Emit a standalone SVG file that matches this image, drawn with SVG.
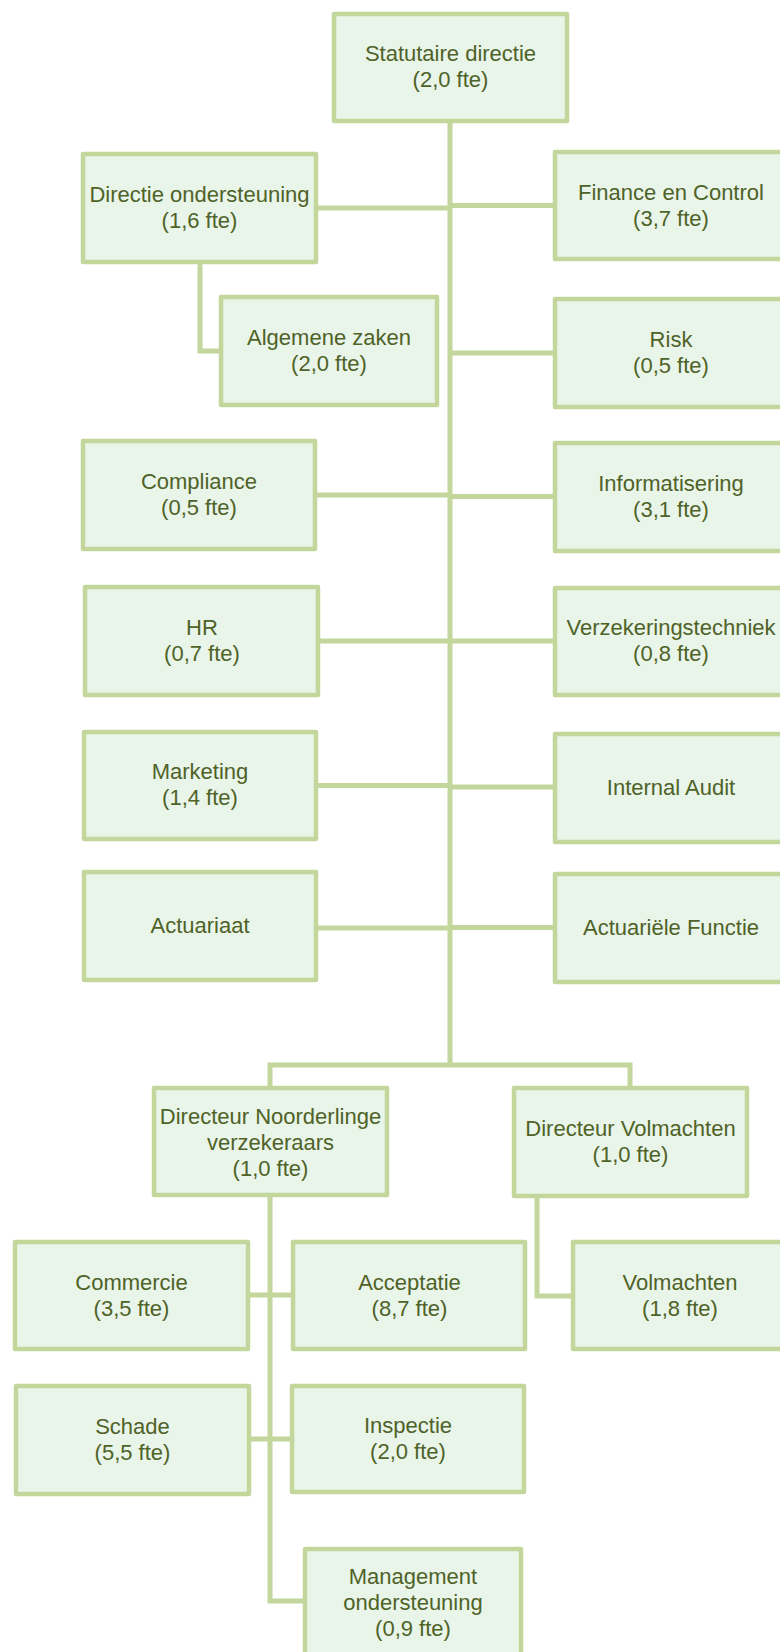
<svg xmlns="http://www.w3.org/2000/svg" width="780" height="1652" viewBox="0 0 780 1652">
<style>
.box{fill:#E8F5E8;stroke:#C3D69B;stroke-width:4.5;stroke-linejoin:round}
.t{font-family:"Liberation Sans",Arial,sans-serif;font-size:22px;fill:#4F6228;text-anchor:middle}
.c{fill:none;stroke:#C3D69B;stroke-width:5}
</style>
<rect width="780" height="1652" fill="#ffffff"/>
<g id="connectors">
<line class="c" x1="450" y1="121" x2="450" y2="1067" stroke-width="6"/>
<line class="c" x1="316" y1="208" x2="450" y2="208"/>
<line class="c" x1="450" y1="205.5" x2="555" y2="205.5"/>
<path class="c" d="M200 262 V351 H221"/>
<line class="c" x1="450" y1="353" x2="555" y2="353"/>
<line class="c" x1="315" y1="495" x2="450" y2="495"/>
<line class="c" x1="450" y1="496.5" x2="555" y2="496.5"/>
<line class="c" x1="318" y1="641" x2="450" y2="641"/>
<line class="c" x1="450" y1="641" x2="555" y2="641"/>
<line class="c" x1="316" y1="785.5" x2="450" y2="785.5"/>
<line class="c" x1="450" y1="787" x2="555" y2="787"/>
<line class="c" x1="316" y1="928" x2="450" y2="928"/>
<line class="c" x1="450" y1="927.5" x2="555" y2="927.5"/>
<path class="c" d="M270 1088 V1065 H630 V1088"/>
<path class="c" d="M270 1195 V1601 H305"/>
<line class="c" x1="248" y1="1295" x2="293" y2="1295"/>
<line class="c" x1="249" y1="1439" x2="292" y2="1439"/>
<path class="c" d="M537 1196 V1296 H573"/>
</g>
<g id="n-statutaire"><rect class="box" x="334" y="14" width="233" height="107"/><text class="t" x="450.5" y="61">Statutaire directie</text><text class="t" x="450.5" y="87">(2,0 fte)</text></g>
<g id="n-directie-ondersteuning"><rect class="box" x="83" y="154" width="233" height="108"/><text class="t" x="199.5" y="202">Directie ondersteuning</text><text class="t" x="199.5" y="228">(1,6 fte)</text></g>
<g id="n-finance"><rect class="box" x="555" y="152" width="233" height="107"/><text class="t" x="671" y="200">Finance en Control</text><text class="t" x="671" y="226">(3,7 fte)</text></g>
<g id="n-algemene-zaken"><rect class="box" x="221" y="297" width="216" height="108"/><text class="t" x="329" y="345">Algemene zaken</text><text class="t" x="329" y="371">(2,0 fte)</text></g>
<g id="n-risk"><rect class="box" x="555" y="299" width="233" height="108"/><text class="t" x="671" y="347">Risk</text><text class="t" x="671" y="373">(0,5 fte)</text></g>
<g id="n-compliance"><rect class="box" x="83" y="441" width="232" height="108"/><text class="t" x="199" y="489">Compliance</text><text class="t" x="199" y="515">(0,5 fte)</text></g>
<g id="n-informatisering"><rect class="box" x="555" y="443" width="233" height="108"/><text class="t" x="671" y="491">Informatisering</text><text class="t" x="671" y="517">(3,1 fte)</text></g>
<g id="n-hr"><rect class="box" x="85" y="587" width="233" height="108"/><text class="t" x="202" y="635">HR</text><text class="t" x="202" y="661">(0,7 fte)</text></g>
<g id="n-verzekeringstechniek"><rect class="box" x="555" y="588" width="233" height="107"/><text class="t" x="671" y="635">Verzekeringstechniek</text><text class="t" x="671" y="661">(0,8 fte)</text></g>
<g id="n-marketing"><rect class="box" x="84" y="732" width="232" height="107"/><text class="t" x="200" y="779">Marketing</text><text class="t" x="200" y="805">(1,4 fte)</text></g>
<g id="n-internal-audit"><rect class="box" x="555" y="734" width="233" height="108"/><text class="t" x="671" y="795">Internal Audit</text></g>
<g id="n-actuariaat"><rect class="box" x="84" y="872" width="232" height="108"/><text class="t" x="200" y="933">Actuariaat</text></g>
<g id="n-actuariele-functie"><rect class="box" x="555" y="874" width="233" height="108"/><text class="t" x="671" y="935">Actuariële Functie</text></g>
<g id="n-directeur-noorderlinge"><rect class="box" x="154" y="1088" width="233" height="107"/><text class="t" x="270.5" y="1123.5">Directeur Noorderlinge</text><text class="t" x="270.5" y="1149.5">verzekeraars</text><text class="t" x="270.5" y="1175.5">(1,0 fte)</text></g>
<g id="n-directeur-volmachten"><rect class="box" x="514" y="1088" width="233" height="108"/><text class="t" x="630.5" y="1136">Directeur Volmachten</text><text class="t" x="630.5" y="1162">(1,0 fte)</text></g>
<g id="n-commercie"><rect class="box" x="15" y="1242" width="233" height="107"/><text class="t" x="131.5" y="1290">Commercie</text><text class="t" x="131.5" y="1316">(3,5 fte)</text></g>
<g id="n-acceptatie"><rect class="box" x="293" y="1242" width="232" height="107"/><text class="t" x="409.5" y="1290">Acceptatie</text><text class="t" x="409.5" y="1316">(8,7 fte)</text></g>
<g id="n-volmachten"><rect class="box" x="573" y="1242" width="214" height="107"/><text class="t" x="680" y="1290">Volmachten</text><text class="t" x="680" y="1316">(1,8 fte)</text></g>
<g id="n-schade"><rect class="box" x="16" y="1386" width="233" height="108"/><text class="t" x="132.5" y="1434">Schade</text><text class="t" x="132.5" y="1460">(5,5 fte)</text></g>
<g id="n-inspectie"><rect class="box" x="292" y="1386" width="232" height="106"/><text class="t" x="408" y="1433">Inspectie</text><text class="t" x="408" y="1459">(2,0 fte)</text></g>
<g id="n-management-ondersteuning"><rect class="box" x="305" y="1549" width="216" height="108"/><text class="t" x="413" y="1584">Management</text><text class="t" x="413" y="1610">ondersteuning</text><text class="t" x="413" y="1636">(0,9 fte)</text></g>
</svg>
